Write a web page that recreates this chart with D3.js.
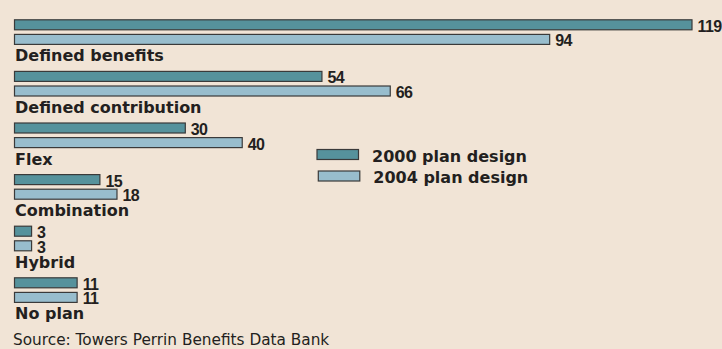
<!DOCTYPE html>
<html><head><meta charset="utf-8">
<script src="https://cdn.jsdelivr.net/npm/d3@7"></script>
<style>
html,body{margin:0;padding:0;background:#f1e4d6;}
svg{display:block;font-family:"DejaVu Sans",sans-serif;}
</style></head>
<body>
<svg id="chart" width="722" height="349"></svg>
<script>
const categories = ["Defined benefits","Defined contribution","Flex","Combination","Hybrid","No plan"];
const seriesNames = ["2000 plan design","2004 plan design"];
const values2000 = [119,54,30,15,3,11];
const values2004 = [94,66,40,18,3,11];
const source = "Source: Towers Perrin Benefits Data Bank";

const colors = ["#56929c","#98bdcd"];
const svg = d3.select("#chart");
svg.append("rect").attr("width",722).attr("height",349).attr("fill","#f1e4d6");

const x = d3.scaleLinear().domain([0,119]).range([14,691.5]);
const y = d3.scaleBand().domain(categories).range([19.3,328.9]).paddingInner(0).paddingOuter(0);
const barH = 11, barGap = 3.6;

const series = [values2000, values2004];
const g = svg.append("g");
categories.forEach((c,i)=>{
  series.forEach((vals,s)=>{
    const y0 = y(c) + s*(barH+barGap);
    g.append("rect")
      .attr("x",x(0)+0.5).attr("y",y0+0.5)
      .attr("width",x(vals[i])-x(0)).attr("height",barH-1)
      .attr("fill",colors[s]).attr("stroke","#3a3a3a").attr("stroke-width",1.2);
    g.append("text")
      .attr("x",x(vals[i])+6).attr("y",y0+barH+1.5)
      .attr("font-family","'Liberation Sans',Arial,sans-serif")
      .attr("font-size",16).attr("font-weight","bold").attr("fill","#231f20")
      .attr("letter-spacing",-0.6)
      .text(vals[i]);
  });
  g.append("text")
    .attr("x",15).attr("y",y(c)+2*barH+barGap+16.5)
    .attr("font-size",16).attr("font-weight","bold").attr("fill","#231f20")
    .text(c);
});

// legend
const legY = [149,170.5];
seriesNames.forEach((n,s)=>{
  svg.append("rect").attr("x",317+s*1.3).attr("y",legY[s]+0.5).attr("width",41.5).attr("height",10)
    .attr("fill",colors[s]).attr("stroke","#3a3a3a").attr("stroke-width",1.2);
  svg.append("text").attr("x",372+s*1.3).attr("y",legY[s]+12.5)
    .attr("font-size",16).attr("font-weight","bold").attr("fill","#231f20").text(n);
});

svg.append("text").attr("x",13).attr("y",345).attr("font-size",15.3).attr("fill","#231f20").text(source);
</script>
</body></html>
